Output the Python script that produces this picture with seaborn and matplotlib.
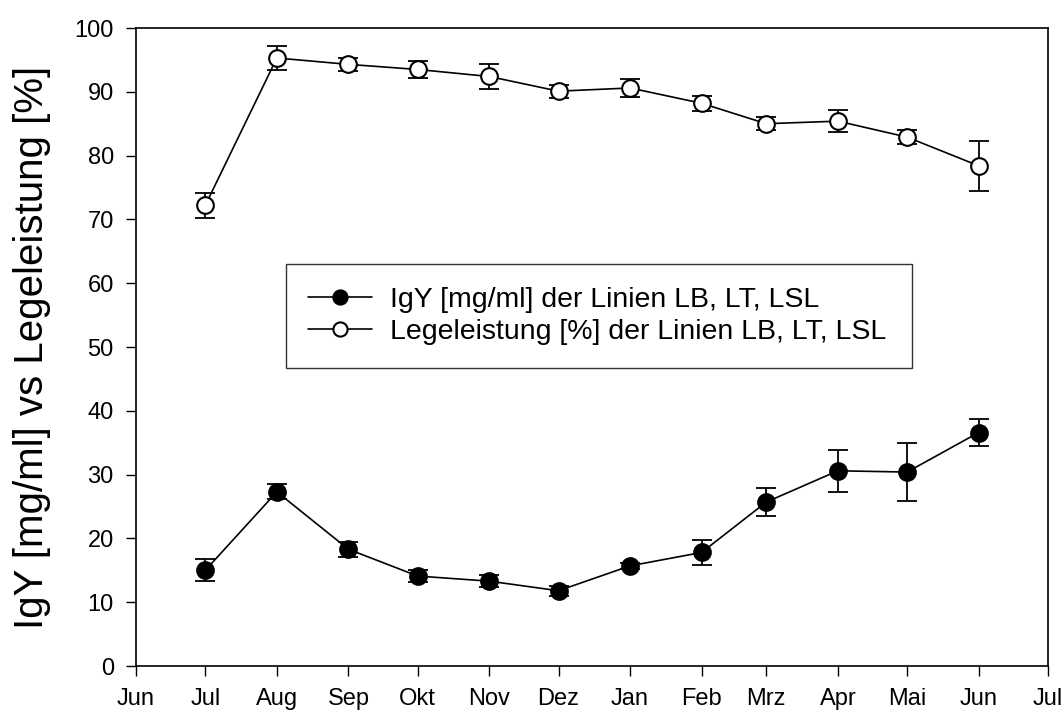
import matplotlib
matplotlib.use("Agg")
import matplotlib.pyplot as plt
import seaborn as sns
import pandas as pd

months = pd.date_range("2000-07-01", periods=12, freq="MS")
igy = [15.0, 27.3, 18.3, 14.1, 13.3, 11.8, 15.7, 17.8, 25.7, 30.6, 30.4, 36.6]
igy_err = [1.7, 1.2, 1.2, 0.9, 0.9, 0.8, 0.5, 2.0, 2.2, 3.3, 4.6, 2.05]
lege = [72.2, 95.3, 94.3, 93.5, 92.4, 90.1, 90.6, 88.2, 85.0, 85.4, 82.9, 78.4]
lege_err = [2.0, 1.9, 1.0, 1.3, 2.0, 1.0, 1.35, 1.2, 1.0, 1.75, 1.1, 3.9]
tick_labels = ["Jun", "Jul", "Aug", "Sep", "Okt", "Nov", "Dez",
               "Jan", "Feb", "Mrz", "Apr", "Mai", "Jun", "Jul"]

df = pd.DataFrame({"date": months, "igy": igy, "igy_err": igy_err,
                   "lege": lege, "lege_err": lege_err})

sns.set_style("ticks")
plt.rcParams['font.family'] = ['Liberation Sans', 'DejaVu Sans']
plt.rcParams['text.color'] = 'black'
plt.rcParams['axes.labelcolor'] = 'black'

fig = plt.figure(figsize=(10.61, 7.18), dpi=100)
ax = fig.add_axes([0.1282, 0.0724, 0.8595, 0.8886])

# error bars first, markers on top
ax.errorbar(df["date"], df["igy"], yerr=df["igy_err"], fmt="none",
            ecolor="black", elinewidth=1.3, capsize=7, capthick=1.3, zorder=2)
ax.errorbar(df["date"], df["lege"], yerr=df["lege_err"], fmt="none",
            ecolor="black", elinewidth=1.3, capsize=7, capthick=1.3, zorder=2)

sns.lineplot(data=df, x="date", y="igy", ax=ax, color="black", lw=1.2,
             marker="o", markersize=12, markerfacecolor="black",
             markeredgecolor="black", markeredgewidth=1.5,
             label="IgY [mg/ml] der Linien LB, LT, LSL", zorder=3)
sns.lineplot(data=df, x="date", y="lege", ax=ax, color="black", lw=1.2,
             marker="o", markersize=12, markerfacecolor="white",
             markeredgecolor="black", markeredgewidth=1.5,
             label="Legeleistung [%] der Linien LB, LT, LSL", zorder=3)

ticks = pd.date_range("2000-06-01", periods=14, freq="MS")
ax.set_xlim(ticks[0], ticks[-1])
ax.set_xticks(ticks)
ax.set_xticklabels(tick_labels)
ax.set_ylim(0, 100)
ax.set_yticks(range(0, 101, 10))
ax.tick_params(direction="out", length=7, width=1, labelsize=17, pad=9,
               top=False, right=False, color="black", labelcolor="black")
for s in ax.spines.values():
    s.set_visible(True)
    s.set_color("black")
    s.set_linewidth(1.2)

ax.set_xlabel("")
ax.set_ylabel("IgY [mg/ml] vs Legeleistung [%]", fontsize=29, labelpad=17)

leg = ax.legend(loc="lower left", bbox_to_anchor=(0.164, 0.467, 0.687, 0.163),
                mode="expand", fontsize=20.5, frameon=True, fancybox=False,
                edgecolor="black", handlelength=2.25, handletextpad=0.6,
                borderaxespad=0, borderpad=0.8, labelspacing=0.22,
                markerscale=0.85)
leg.get_frame().set_linewidth(1.0)

fig.savefig("out.png", dpi=100)
